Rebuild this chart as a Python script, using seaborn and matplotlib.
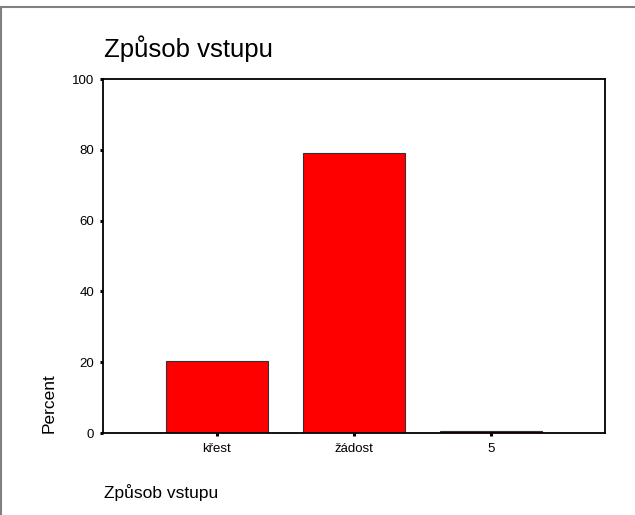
import matplotlib
matplotlib.use("Agg")
import matplotlib.pyplot as plt
import seaborn as sns
from matplotlib.lines import Line2D

# === DATA ===
categories = ["křest", "žádost", "5"]
percent = [20.2, 79.1, 0.7]
title_text = "Způsob vstupu"
x_label = "Způsob vstupu"
y_label = "Percent"
y_ticks = [0, 20, 40, 60, 80, 100]

# === STYLE ===
sns.set_style("white")
plt.rcParams["font.family"] = ["Liberation Sans", "DejaVu Sans"]

W, H = 635, 515
fig = plt.figure(figsize=(W / 100, H / 100), dpi=100)
ax = fig.add_axes([103 / W, (H - 433) / H, (605 - 103) / W, (433 - 79) / H])

sns.barplot(x=categories, y=percent, color="#FF0000", saturation=1,
            width=0.745, edgecolor="#333333", linewidth=0.8, ax=ax)

ax.set_xlim(-0.83, 2.83)
ax.set_ylim(0, 100)
ax.set_yticks(y_ticks)
ax.set_xlabel("")
ax.set_ylabel("")
for side in ["left", "bottom", "top", "right"]:
    ax.spines[side].set_visible(True)
    ax.spines[side].set_color("black")
    ax.spines[side].set_linewidth(1.3)
ax.tick_params(axis="both", direction="out", length=2.5, width=2.2,
               color="black", labelsize=9.5, pad=4, labelcolor="black",
               bottom=True, left=True)
ax.tick_params(axis="x", pad=5)

# title, axis labels placed like the original export
fig.text(104 / W, (H - 57) / H, title_text, fontsize=18.5, ha="left",
         va="baseline", color="black")
fig.text(104 / W, (H - 498) / H, x_label, fontsize=12.5, ha="left",
         va="baseline", color="black")
fig.text(42 / W, (H - 433) / H, y_label, fontsize=12.5, rotation=90,
         ha="left", va="bottom", color="black")

# outer frame (top and left edges)
fig.add_artist(Line2D([0, 1], [(H - 7) / H, (H - 7) / H], color="#808080",
                      linewidth=1.5, transform=fig.transFigure))
fig.add_artist(Line2D([1 / W, 1 / W], [0, (H - 7) / H], color="#808080",
                      linewidth=1.5, transform=fig.transFigure))

fig.savefig("out.png", dpi=100, facecolor="white")
plt.close(fig)
